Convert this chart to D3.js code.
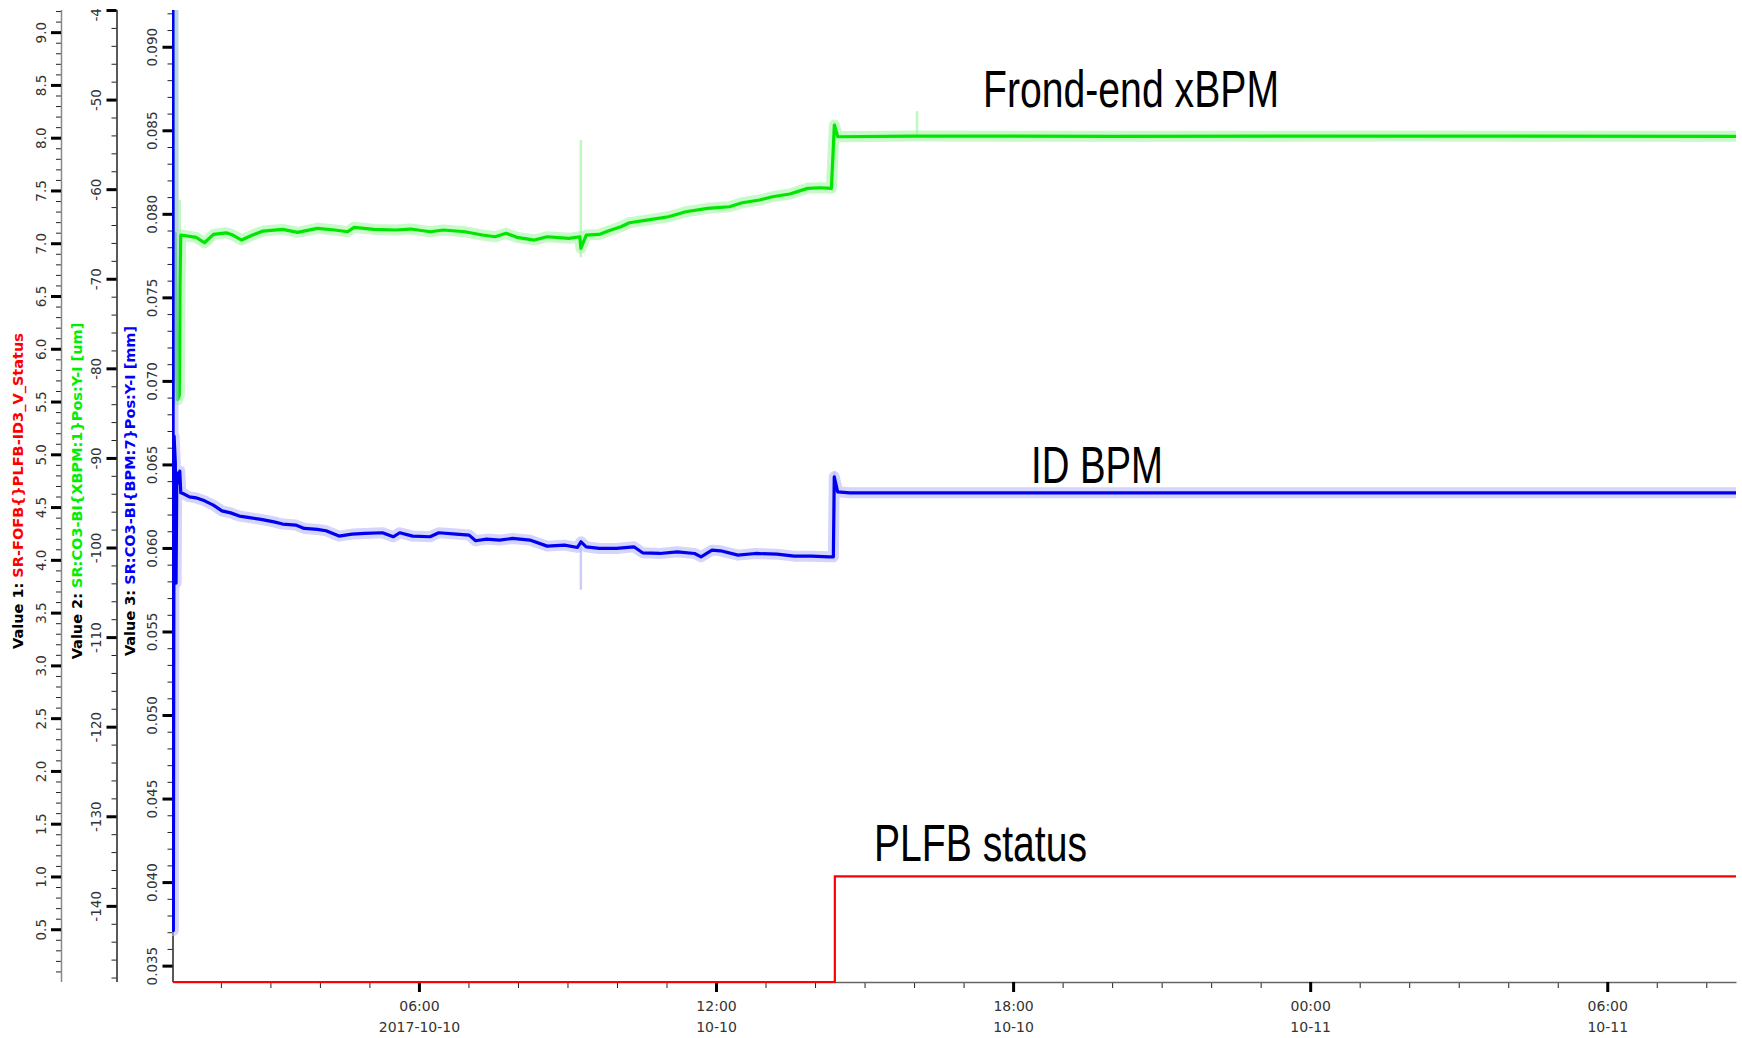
<!DOCTYPE html>
<html>
<head>
<meta charset="utf-8">
<script src="https://cdn.jsdelivr.net/npm/d3@7"></script>
<style>
  html, body { margin: 0; padding: 0; background: #fff; }
  svg { display: block; }
</style>
</head>
<body>
<svg id="chart" width="1742" height="1038"></svg>
<script>
// Samples are [hours after 2017-10-10 00:00, value]
const fofbStatus = [[1.03, 0], [14.40, 1], [32.6, 1]];

const xbpmPosY = [
  [1.030, -36.0], [1.045, -83.5], [1.075, -64.9], [1.100, -74.6], [1.125, -83.5],
  [1.160, -83.0], [1.175, -70.5], [1.19, -65.12], [1.50, -65.38], [1.67, -65.98],
  [1.85, -65.05], [2.11, -64.87], [2.24, -65.12], [2.42, -65.68], [2.64, -65.12],
  [2.85, -64.68], [3.25, -64.49], [3.55, -64.82], [3.95, -64.37], [4.30, -64.56],
  [4.56, -64.75], [4.69, -64.26], [5.09, -64.49], [5.53, -64.56], [5.83, -64.45],
  [6.23, -64.75], [6.49, -64.56], [6.93, -64.75], [7.28, -65.12], [7.54, -65.31],
  [7.76, -64.93], [7.98, -65.38], [8.33, -65.68], [8.59, -65.31], [9.03, -65.49],
  [9.25, -65.31], [9.27, -66.61], [9.38, -65.12], [9.64, -65.05], [9.82, -64.68],
  [10.08, -64.20], [10.25, -63.75], [10.60, -63.45], [11.04, -63.08], [11.39, -62.52],
  [11.83, -62.14], [12.27, -61.96], [12.53, -61.52], [12.88, -61.21], [13.14, -60.85],
  [13.49, -60.54], [13.85, -59.91], [14.11, -59.84], [14.33, -59.91], [14.39, -52.84],
  [14.46, -54.15], [16.0, -54.07], [20.0, -54.10], [26.0, -54.07], [32.6, -54.10]
];

const bpmPosY = [
  [1.030, 0.0950], [1.040, 0.0371], [1.055, 0.0667], [1.080, 0.0651], [1.095, 0.0579],
  [1.110, 0.0645], [1.150, 0.0639], [1.170, 0.0646], [1.190, 0.0633], [1.234, 0.06326],
  [1.365, 0.06306], [1.496, 0.06300], [1.672, 0.06282], [1.848, 0.06256], [2.021, 0.06222],
  [2.197, 0.06210], [2.373, 0.06191], [2.546, 0.06183], [2.809, 0.06171], [3.073, 0.06156],
  [3.247, 0.06143], [3.512, 0.06137], [3.685, 0.06117], [3.948, 0.06111], [4.124, 0.06103],
  [4.386, 0.06071], [4.649, 0.06083], [4.911, 0.06087], [5.263, 0.06091], [5.481, 0.06067],
  [5.612, 0.06091], [5.874, 0.06071], [6.226, 0.06067], [6.401, 0.06091], [6.751, 0.06083],
  [7.013, 0.06077], [7.145, 0.06043], [7.365, 0.06053], [7.627, 0.06047], [7.890, 0.06057],
  [8.239, 0.06047], [8.590, 0.06011], [8.940, 0.06017], [9.202, 0.06003], [9.273, 0.06037],
  [9.378, 0.06007], [9.641, 0.05997], [9.992, 0.05997], [10.341, 0.06007], [10.517, 0.05971],
  [10.866, 0.05967], [11.218, 0.05977], [11.567, 0.05967], [11.698, 0.05947], [11.918, 0.05987],
  [12.092, 0.05983], [12.443, 0.05957], [12.793, 0.05967], [13.231, 0.05963], [13.580, 0.05951],
  [13.932, 0.05951], [14.281, 0.05947], [14.370, 0.05947], [14.388, 0.06426], [14.457, 0.06336],
  [14.70, 0.06330], [20.0, 0.06330], [26.0, 0.06330], [32.6, 0.06330]
];

// Short excursions of the min/max envelope: [hours, high, low]
const xbpmSpikes = [[1.17, -61.2, -83.5], [9.27, -54.5, -67.6], [14.39, -52.5, -57.9], [16.06, -51.3, -54.1]];
const bpmSpikes = [[9.27, 0.0604, 0.0575], [14.39, 0.0646, 0.0617]];

// Axis ticks
const statusTicks = [0.5, 1.0, 1.5, 2.0, 2.5, 3.0, 3.5, 4.0, 4.5, 5.0, 5.5, 6.0, 6.5, 7.0, 7.5, 8.0, 8.5, 9.0];
const xbpmTicks = [-140, -130, -120, -110, -100, -90, -80, -70, -60, -50, -40];
const bpmTicks = [0.035, 0.040, 0.045, 0.050, 0.055, 0.060, 0.065, 0.070, 0.075, 0.080, 0.085, 0.090];
const timeTicks = [6, 12, 18, 24, 30];
const timeLabels = ["06:00", "12:00", "18:00", "00:00", "06:00"];
const dateLabels = ["2017-10-10", "10-10", "10-10", "10-11", "10-11"];

const axisTitles = [
  { head: "Value 1: ", name: "SR-FOFB{}PLFB-ID3_V_Status", color: "#ff0000", x: 18 },
  { head: "Value 2: ", name: "SR:CO3-BI{XBPM:1}Pos:Y-I [um]", color: "#00ee00", x: 77 },
  { head: "Value 3: ", name: "SR:CO3-BI{BPM:7}Pos:Y-I [mm]", color: "#0000ff", x: 130 }
];

const notes = [
  { text: "Frond-end xBPM", x: 983, y: 107, w: 296 },
  { text: "ID BPM", x: 1031, y: 483, w: 132 },
  { text: "PLFB status", x: 874, y: 861, w: 213 }
];

// ---------------------------------------------------------------
const svg = d3.select("#chart");
const W = 1742, H = 1038;
const plot = { left: 173, right: 1736, top: 10, bottom: 982 };

const t0 = new Date(2017, 9, 10, 0, 0, 0);
const at = h => new Date(t0.getTime() + h * 3600e3);

const x = d3.scaleTime().domain([at(1.033), at(32.6)]).range([plot.left, plot.right]);
const yStatus = d3.scaleLinear().domain([0, 9.21]).range([plot.bottom, plot.top]);
const yXbpm = d3.scaleLinear().domain([-148.5, -40]).range([plot.bottom, plot.top]);
const yBpm = d3.scaleLinear().domain([0.03402, 0.0922]).range([plot.bottom, plot.top]);

svg.append("rect").attr("width", W).attr("height", H).attr("fill", "#fff");

const defs = svg.append("defs");
defs.append("clipPath").attr("id", "plotClip")
  .append("rect").attr("x", plot.left - 1).attr("y", plot.top)
  .attr("width", plot.right - plot.left + 1).attr("height", plot.bottom - plot.top + 3);
defs.append("clipPath").attr("id", "axisClip")
  .append("rect").attr("x", 0).attr("y", plot.top - 2).attr("width", W).attr("height", H);

const tickFont = "'DejaVu Sans', sans-serif";

// ---- vertical axes -------------------------------------------
function drawYAxis(scale, xPos, majors, minors, fmt, lineColor) {
  const g = svg.append("g").attr("clip-path", "url(#axisClip)");
  const minorAxis = d3.axisLeft(scale).tickValues(minors).tickSize(5).tickSizeOuter(0).tickFormat("");
  const gm = g.append("g").attr("transform", `translate(${xPos},0)`).call(minorAxis);
  gm.select(".domain").remove();
  gm.selectAll(".tick line").attr("stroke", "#222").attr("stroke-width", 1);

  const majorAxis = d3.axisLeft(scale).tickValues(majors).tickSize(10).tickSizeOuter(0).tickFormat(fmt);
  const ga = g.append("g").attr("transform", `translate(${xPos},0)`).call(majorAxis);
  ga.select(".domain").attr("stroke", lineColor).attr("stroke-width", 1.5)
    .attr("d", `M0.5,${plot.top}V${plot.bottom}`);
  ga.selectAll(".tick line").attr("stroke", "#000").attr("stroke-width", 3);
  ga.selectAll(".tick text")
    .attr("x", null).attr("dy", "0.36em")
    .attr("transform", "translate(-20,0) rotate(-90)")
    .attr("text-anchor", "middle")
    .attr("fill", "#333")
    .style("font-family", tickFont).style("font-size", "13.5px");
}

function offStep(v, step) { const r = v / step; return Math.abs(r - Math.round(r)) > 1e-6; }
const statusMinors = d3.range(1, 93).map(i => i / 10).filter(v => offStep(v, 0.5));
const xbpmMinors = d3.range(-148, -39, 2).filter(v => v % 10 !== 0);
const bpmMinors = d3.range(35, 93).map(i => i / 1000).filter(v => offStep(v, 0.005));

drawYAxis(yStatus, 61, statusTicks, statusMinors, d => d.toFixed(1), "#888");
drawYAxis(yXbpm, 116.5, xbpmTicks, xbpmMinors, d => String(d), "#222");
drawYAxis(yBpm, plot.left - 0.5, bpmTicks, bpmMinors, d => d.toFixed(3), "#222");

// ---- axis titles ---------------------------------------------
axisTitles.forEach(t => {
  const tx = svg.append("text")
    .attr("transform", `translate(${t.x},491) rotate(-90)`)
    .attr("dy", "0.36em")
    .attr("text-anchor", "middle")
    .style("font-family", tickFont).style("font-size", "14.5px").style("font-weight", "bold");
  tx.append("tspan").attr("fill", "#000").text(t.head);
  tx.append("tspan").attr("fill", t.color).text(t.name);
});

// ---- time axis -----------------------------------------------
const minorHours = d3.range(2, 33).filter(h => h % 6 !== 0).map(at);
const gxm = svg.append("g").attr("transform", `translate(0,${plot.bottom})`)
  .call(d3.axisBottom(x).tickValues(minorHours).tickSize(6).tickSizeOuter(0).tickFormat(""));
gxm.select(".domain").remove();
gxm.selectAll(".tick line").attr("stroke", "#222").attr("stroke-width", 1);

const gx = svg.append("g").attr("transform", `translate(0,${plot.bottom})`)
  .call(d3.axisBottom(x).tickValues(timeTicks.map(at)).tickSize(10).tickSizeOuter(0).tickFormat(""));
gx.select(".domain").attr("stroke", "#666").attr("stroke-width", 1.5);
gx.selectAll(".tick line").attr("stroke", "#000").attr("stroke-width", 3);
gx.selectAll(".tick").each(function (d, i) {
  const t = d3.select(this).append("text")
    .attr("text-anchor", "middle").attr("fill", "#333")
    .style("font-family", tickFont).style("font-size", "14px");
  t.append("tspan").attr("x", 0).attr("y", 29).text(timeLabels[i]);
  t.append("tspan").attr("x", 0).attr("y", 50).text(dateLabels[i]);
});

// ---- series --------------------------------------------------
const plotG = svg.append("g").attr("clip-path", "url(#plotClip)");

const statusLine = d3.line().curve(d3.curveStepAfter)
  .x(d => x(at(d[0]))).y(d => yStatus(d[1]));
const xbpmLine = d3.line().x(d => x(at(d[0]))).y(d => yXbpm(d[1]));
const bpmLine = d3.line().x(d => x(at(d[0]))).y(d => yBpm(d[1]));

plotG.append("path").datum(fofbStatus).attr("d", statusLine)
  .attr("fill", "none").attr("stroke", "#ff0000").attr("stroke-width", 2.2);

function drawTrace(data, spikes, gen, scale, main, light) {
  plotG.selectAll(null).data(spikes).join("line")
    .attr("x1", d => x(at(d[0]))).attr("x2", d => x(at(d[0])))
    .attr("y1", d => scale(d[1])).attr("y2", d => scale(d[2]))
    .attr("stroke", light).attr("stroke-opacity", 0.7).attr("stroke-width", 2.5);
  // min/max envelope
  plotG.append("path").datum(data).attr("d", gen)
    .attr("fill", "none").attr("stroke", light).attr("stroke-opacity", 0.6)
    .attr("stroke-width", 11).attr("stroke-linejoin", "round");
  // mean trace
  plotG.append("path").datum(data).attr("d", gen)
    .attr("fill", "none").attr("stroke", main).attr("stroke-width", 3.2)
    .attr("stroke-linejoin", "round");
}

drawTrace(xbpmPosY, xbpmSpikes, xbpmLine, yXbpm, "#00e600", "#a4f5a4");
drawTrace(bpmPosY, bpmSpikes, bpmLine, yBpm, "#0000f0", "#b8b8fa");

// ---- annotations ---------------------------------------------
svg.selectAll(null).data(notes).join("text")
  .attr("x", d => d.x).attr("y", d => d.y)
  .attr("textLength", d => d.w).attr("lengthAdjust", "spacingAndGlyphs")
  .attr("fill", "#000")
  .style("font-family", "'Liberation Sans Narrow', 'Liberation Sans', sans-serif")
  .style("font-size", "52px")
  .text(d => d.text);
</script>
</body>
</html>
